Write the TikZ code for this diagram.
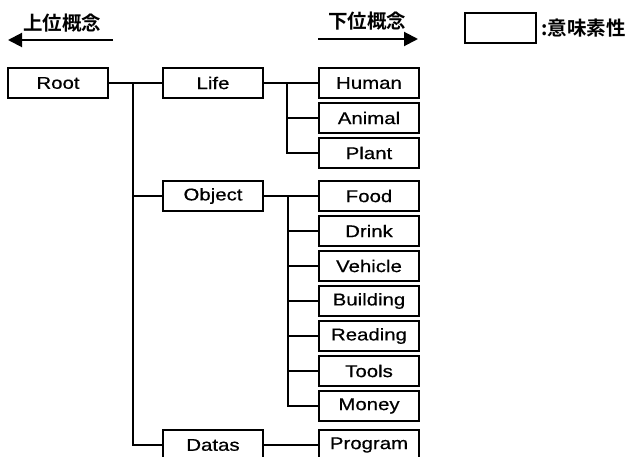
\documentclass[tikz,border=0pt]{standalone}
\usepackage{fontspec}
\setmainfont{Liberation Sans}[FakeStretch=1.2,FakeBold=0.6]
\newfontfamily\cjk{Noto Sans CJK JP Bold}
\usetikzlibrary{arrows.meta}
\begin{document}
\begin{tikzpicture}[x=1pt,y=-1pt,
  box/.style={draw,line width=1.6pt,rectangle,minimum width=100pt,minimum height=30pt,inner sep=0pt,font=\fontsize{17pt}{20pt}\selectfont},
  link/.style={line width=1.6pt},
  head/.style={line width=2pt,-{Triangle[length=14pt,width=14pt]}},
  jp/.style={font=\cjk\fontsize{19.5pt}{22pt}\selectfont,inner sep=0pt}]
\useasboundingbox (0,0) rectangle (631,457);
% headers
\node[jp] (up) at (62,23) {上位概念};
\node[jp] (down) at (367,21) {下位概念};
\coordinate (ua) at (113,40);
\coordinate (ub) at (8,40);
\coordinate (da) at (318,39);
\coordinate (db) at (418,39);
\draw[head] (ua) -- (ub);
\draw[head] (da) -- (db);
% legend
\node[draw,line width=2pt,minimum width=71pt,minimum height=30pt,inner sep=0pt] (leg) at (500,28) {};
\node[jp,anchor=west] (legt) at (541,28) {:意味素性};
% nodes
\node[box] (root) at (58,83) {Root};
\node[box] (life) at (213,83) {Life};
\node[box] (object) at (213,196) {Object};
\node[box] (datas) at (213,445) {Datas};
\node[box] (human) at (369,83) {Human};
\node[box] (animal) at (369,118) {Animal};
\node[box] (plant) at (369,153) {Plant};
\node[box] (food) at (369,196) {Food};
\node[box] (drink) at (369,231) {Drink};
\node[box] (vehicle) at (369,266) {Vehicle};
\node[box] (building) at (369,301) {Building};
\node[box] (reading) at (369,336) {Reading};
\node[box] (tools) at (369,371) {Tools};
\node[box] (money) at (369,406) {Money};
\node[box] (program) at (369,445) {Program};
% spines
\coordinate (s0) at (133,83);
\coordinate (s1) at (287,83);
\coordinate (s2) at (288,196);
\draw[link] (root) -- (life);
\draw[link] (s0) |- (object.west);
\draw[link] (s0) |- (datas.west);
\draw[link] (life) -- (human);
\draw[link] (s1) |- (animal.west);
\draw[link] (s1) |- (plant.west);
\draw[link] (object) -- (food);
\foreach \n in {drink,vehicle,building,reading,tools,money}
  \draw[link] (s2) |- (\n.west);
\draw[link] (datas) -- (program);
\end{tikzpicture}
\end{document}
